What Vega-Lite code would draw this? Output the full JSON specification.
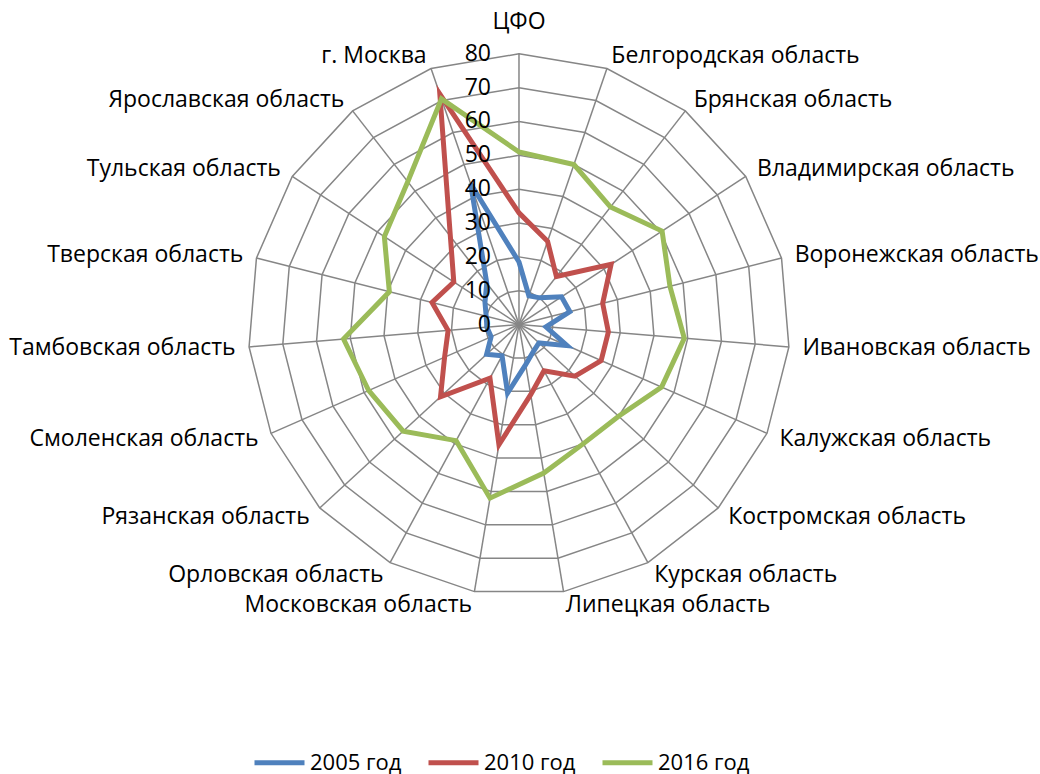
{
  "$schema": "https://vega.github.io/schema/vega-lite/v6.json",
  "width": 1040,
  "height": 774,
  "padding": 0,
  "autosize": {"type": "none"},
  "background": "white",
  "config": {"view": {"stroke": null}, "font": "Open Sans"},
  "datasets": {
    "regions": [
      {"region": "ЦФО", "i": 0, "2005 год": 18.5, "2010 год": 33, "2016 год": 51},
      {"region": "Белгородская область", "i": 1, "2005 год": 9, "2010 год": 26, "2016 год": 50},
      {"region": "Брянская область", "i": 2, "2005 год": 10, "2010 год": 18, "2016 год": 44},
      {"region": "Владимирская область", "i": 3, "2005 год": 15, "2010 год": 32.5, "2016 год": 50.5},
      {"region": "Воронежская область", "i": 4, "2005 год": 15.5, "2010 год": 25.5, "2016 год": 46},
      {"region": "Ивановская область", "i": 5, "2005 год": 8, "2010 год": 26.5, "2016 год": 49},
      {"region": "Калужская область", "i": 6, "2005 год": 15.5, "2010 год": 26.5, "2016 год": 46},
      {"region": "Костромская область", "i": 7, "2005 год": 8, "2010 год": 22.5, "2016 год": 40},
      {"region": "Курская область", "i": 8, "2005 год": 9, "2010 год": 15.5, "2016 год": 40},
      {"region": "Липецкая область", "i": 9, "2005 год": 12, "2010 год": 21, "2016 год": 44.5},
      {"region": "Московская область", "i": 10, "2005 год": 20.5, "2010 год": 36, "2016 год": 52},
      {"region": "Орловская область", "i": 11, "2005 год": 10.5, "2010 год": 18, "2016 год": 39},
      {"region": "Рязанская область", "i": 12, "2005 год": 13, "2010 год": 31.5, "2016 год": 46.5},
      {"region": "Смоленская область", "i": 13, "2005 год": 9, "2010 год": 24, "2016 год": 48.5},
      {"region": "Тамбовская область", "i": 14, "2005 год": 9.5, "2010 год": 21, "2016 год": 52},
      {"region": "Тверская область", "i": 15, "2005 год": 10, "2010 год": 26.5, "2016 год": 39.5},
      {"region": "Тульская область", "i": 16, "2005 год": 12, "2010 год": 23, "2016 год": 47.5},
      {"region": "Ярославская область", "i": 17, "2005 год": 15.5, "2010 год": 33, "2016 год": 53.5},
      {"region": "г. Москва", "i": 18, "2005 год": 44, "2010 год": 72, "2016 год": 70.5}
    ],
    "ticks": [
      {"level": 0}, {"level": 10}, {"level": 20}, {"level": 30}, {"level": 40},
      {"level": 50}, {"level": 60}, {"level": 70}, {"level": 80}
    ]
  },
  "layer": [
    {
      "data": {"name": "regions"},
      "transform": [
        {"calculate": "[10,20,30,40,50,60,70,80]", "as": "level"},
        {"flatten": ["level"]},
        {"calculate": "datum.level*sin(datum.i*2*PI/19)", "as": "gx"},
        {"calculate": "datum.level*cos(datum.i*2*PI/19)", "as": "gy"}
      ],
      "mark": {"type": "line", "interpolate": "linear-closed", "color": "#868686", "strokeWidth": 1.5},
      "encoding": {
        "x": {"field": "gx", "type": "quantitative", "scale": {"domain": [-153.3, 153.9], "nice": false, "zero": false}, "axis": null},
        "y": {"field": "gy", "type": "quantitative", "scale": {"domain": [-132.8, 95.9], "nice": false, "zero": false}, "axis": null},
        "detail": {"field": "level", "type": "nominal"},
        "order": {"field": "i", "type": "quantitative"}
      }
    },
    {
      "data": {"name": "regions"},
      "transform": [
        {"calculate": "0", "as": "z"},
        {"calculate": "80*sin(datum.i*2*PI/19)", "as": "sx"},
        {"calculate": "80*cos(datum.i*2*PI/19)", "as": "sy"}
      ],
      "mark": {"type": "rule", "color": "#868686", "strokeWidth": 1.5},
      "encoding": {
        "x": {"field": "z", "type": "quantitative"},
        "y": {"field": "z", "type": "quantitative"},
        "x2": {"field": "sx"},
        "y2": {"field": "sy"}
      }
    },
    {
      "data": {"name": "regions"},
      "transform": [
        {"fold": ["2005 год", "2010 год", "2016 год"], "as": ["year", "value"]},
        {"calculate": "datum.value*sin(datum.i*2*PI/19)", "as": "px"},
        {"calculate": "datum.value*cos(datum.i*2*PI/19)", "as": "py"}
      ],
      "mark": {"type": "line", "interpolate": "linear-closed", "strokeWidth": 5},
      "encoding": {
        "x": {"field": "px", "type": "quantitative"},
        "y": {"field": "py", "type": "quantitative"},
        "order": {"field": "i", "type": "quantitative"},
        "color": {
          "field": "year",
          "type": "nominal",
          "scale": {"domain": ["2005 год", "2010 год", "2016 год"], "range": ["#4F81BD", "#C0504D", "#9BBB59"]},
          "legend": {
            "orient": "none",
            "legendX": 252,
            "legendY": 735,
            "direction": "horizontal",
            "title": null,
            "symbolType": "stroke",
            "symbolSize": 2500,
            "symbolStrokeWidth": 5,
            "labelFontSize": 22,
            "labelFont": "Open Sans",
            "labelColor": "black",
            "labelOffset": 3,
            "columnPadding": 16
          }
        }
      }
    },
    {
      "data": {"name": "regions"},
      "transform": [
        {"filter": "datum.i > 0 && datum.i < 10"},
        {"calculate": "84*sin(datum.i*2*PI/19)", "as": "lx"},
        {"calculate": "84*cos(datum.i*2*PI/19)", "as": "ly"}
      ],
      "mark": {"type": "text", "align": "left", "baseline": "middle", "fontSize": 23, "font": "Open Sans", "color": "black"},
      "encoding": {
        "x": {"field": "lx", "type": "quantitative"},
        "y": {"field": "ly", "type": "quantitative"},
        "text": {"field": "region"}
      }
    },
    {
      "data": {"name": "regions"},
      "transform": [
        {"filter": "datum.i >= 10"},
        {"calculate": "84*sin(datum.i*2*PI/19)", "as": "lx"},
        {"calculate": "84*cos(datum.i*2*PI/19)", "as": "ly"}
      ],
      "mark": {"type": "text", "align": "right", "baseline": "middle", "fontSize": 23, "font": "Open Sans", "color": "black"},
      "encoding": {
        "x": {"field": "lx", "type": "quantitative"},
        "y": {"field": "ly", "type": "quantitative"},
        "text": {"field": "region"}
      }
    },
    {
      "data": {"name": "regions"},
      "transform": [
        {"filter": "datum.i == 0"},
        {"calculate": "0", "as": "lx"},
        {"calculate": "86", "as": "ly"}
      ],
      "mark": {"type": "text", "align": "center", "baseline": "bottom", "fontSize": 23, "font": "Open Sans", "color": "black"},
      "encoding": {
        "x": {"field": "lx", "type": "quantitative"},
        "y": {"field": "ly", "type": "quantitative"},
        "text": {"field": "region"}
      }
    },
    {
      "data": {"name": "ticks"},
      "transform": [{"calculate": "0", "as": "z"}],
      "mark": {"type": "text", "align": "right", "baseline": "middle", "dx": -28, "fontSize": 23, "font": "Open Sans", "color": "black"},
      "encoding": {
        "x": {"field": "z", "type": "quantitative"},
        "y": {"field": "level", "type": "quantitative"},
        "text": {"field": "level", "type": "quantitative"}
      }
    }
  ]
}
